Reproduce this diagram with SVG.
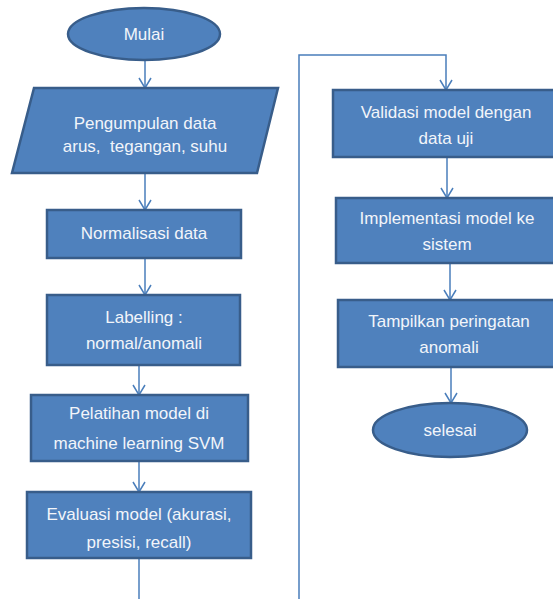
<svg xmlns="http://www.w3.org/2000/svg" width="553" height="599" viewBox="0 0 553 599">
<defs>
<marker id="arr" viewBox="0 0 12 14" refX="11" refY="7" markerWidth="12" markerHeight="14" markerUnits="userSpaceOnUse" orient="auto">
<path d="M1,1 L11,7 L1,13" fill="none" stroke="#4A7EBB" stroke-width="1.5"/>
</marker>
<style>
.n{fill:#4F81BD;stroke:#385D8A;stroke-width:2.5}
.t{fill:#F2F5FA;font-family:"Liberation Sans",Arial,sans-serif;font-size:17px;text-anchor:middle}
.c{fill:none;stroke:#4A7EBB;stroke-width:1.5}
</style>
</defs>
<rect width="553" height="599" fill="#FFFFFF"/>
<g id="connectors">
<line class="c" x1="145" y1="60" x2="145" y2="88" marker-end="url(#arr)"/>
<line class="c" x1="145" y1="173" x2="145" y2="210" marker-end="url(#arr)"/>
<line class="c" x1="145" y1="258" x2="145" y2="295" marker-end="url(#arr)"/>
<line class="c" x1="139" y1="365" x2="139" y2="395" marker-end="url(#arr)"/>
<line class="c" x1="139" y1="461" x2="139" y2="492" marker-end="url(#arr)"/>
<polyline class="c" points="139,558 139,599"/>
<polyline class="c" points="299,599 299,55 446,55 446,90" marker-end="url(#arr)"/>
<line class="c" x1="447" y1="157" x2="447" y2="198" marker-end="url(#arr)"/>
<line class="c" x1="450" y1="263" x2="450" y2="300" marker-end="url(#arr)"/>
<line class="c" x1="451" y1="367" x2="451" y2="403" marker-end="url(#arr)"/>
</g>
<g id="mulai">
<ellipse class="n" cx="144" cy="34" rx="76" ry="26"/>
<text class="t" x="144" y="40">Mulai</text>
</g>
<g id="pengumpulan">
<polygon class="n" points="34,88 278,88 257,173 12,173"/>
<text class="t" x="145" y="129">Pengumpulan data</text>
<text class="t" x="145" y="152" xml:space="preserve">arus,  tegangan, suhu</text>
</g>
<g id="normalisasi">
<rect class="n" x="47" y="210" width="194" height="48"/>
<text class="t" x="144" y="239">Normalisasi data</text>
</g>
<g id="labelling">
<rect class="n" x="47" y="295" width="193" height="70"/>
<text class="t" x="144" y="323">Labelling :</text>
<text class="t" x="144" y="349">normal/anomali</text>
</g>
<g id="pelatihan">
<rect class="n" x="31" y="395" width="217" height="66"/>
<text class="t" x="139" y="419">Pelatihan model di</text>
<text class="t" x="139" y="449">machine learning SVM</text>
</g>
<g id="evaluasi">
<rect class="n" x="27" y="492" width="224" height="66"/>
<text class="t" x="139" y="520">Evaluasi model (akurasi,</text>
<text class="t" x="139" y="548">presisi, recall)</text>
</g>
<g id="validasi">
<rect class="n" x="333" y="90" width="228" height="67"/>
<text class="t" x="446" y="118">Validasi model dengan</text>
<text class="t" x="446" y="144">data uji</text>
</g>
<g id="implementasi">
<rect class="n" x="336" y="198" width="228" height="65"/>
<text class="t" x="447" y="224">Implementasi model ke</text>
<text class="t" x="447" y="250">sistem</text>
</g>
<g id="tampilkan">
<rect class="n" x="338" y="300" width="228" height="67"/>
<text class="t" x="449" y="327">Tampilkan peringatan</text>
<text class="t" x="449" y="353">anomali</text>
</g>
<g id="selesai">
<ellipse class="n" cx="450" cy="430" rx="77" ry="27"/>
<text class="t" x="450" y="436">selesai</text>
</g>
</svg>
